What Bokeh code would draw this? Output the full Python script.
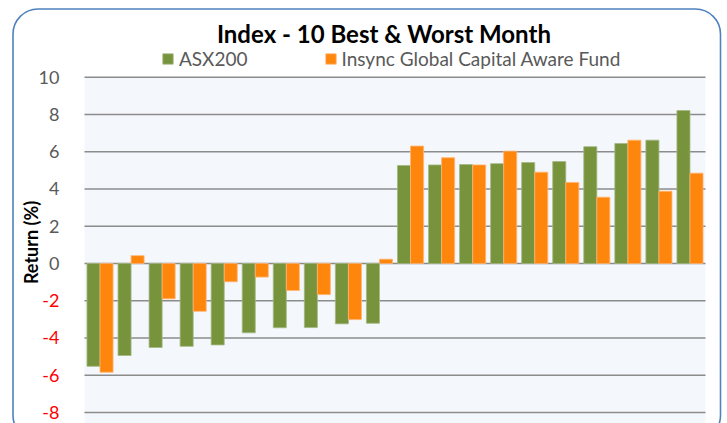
import numpy as np
from bokeh.plotting import figure
from bokeh.models import Range1d, Legend, LegendItem, BoxAnnotation, ColumnDataSource
from bokeh.core.properties import value
from bokeh.embed import file_html
from bokeh.resources import INLINE

# ---- data ----
categories = ["W1", "W2", "W3", "W4", "W5", "W6", "W7", "W8", "W9", "W10",
              "B10", "B9", "B8", "B7", "B6", "B5", "B4", "B3", "B2", "B1"]
asx200 = [-5.52, -4.94, -4.51, -4.45, -4.37, -3.72, -3.45, -3.44, -3.24, -3.21,
          5.26, 5.29, 5.31, 5.36, 5.42, 5.47, 6.27, 6.44, 6.62, 8.21]
insync = [-5.84, 0.42, -1.90, -2.57, -0.98, -0.73, -1.45, -1.67, -3.01, 0.23,
          6.30, 5.68, 5.29, 6.03, 4.90, 4.35, 3.56, 6.62, 3.88, 4.85]
y_ticks = [-8, -6, -4, -2, 0, 2, 4, 6, 8, 10]
series_names = ["ASX200", "Insync Global Capital Aware Fund"]
colors = ["#77933C", "#FF860D"]
title_text = "Index - 10 Best & Worst Month"
y_label = "Return (%)"

FONT = "Lato"
W, H = 727, 423
# layout in canvas pixels
PX_L, PX_R, PX_T, PX_B = 84, 705, 76.7, 412
n = len(categories)
ymin, ymax = y_ticks[0], y_ticks[-1]
sx = (PX_R - PX_L) / n
sy = (PX_B - PX_T) / (ymax - ymin)
x_start, x_end = -PX_L / sx, n + (W - PX_R) / sx
y_start, y_end = ymin - (H - PX_B) / sy, ymax + PX_T / sy


def cx(px):
    return x_start + px / sx


def cy(py):
    return y_end - py / sy


p = figure(width=W, height=H, output_backend="svg", toolbar_location=None,
           x_range=Range1d(x_start, x_end), y_range=Range1d(y_start, y_end),
           min_border=0, min_border_left=0, min_border_right=0,
           min_border_top=0, min_border_bottom=0)
p.axis.visible = False
p.grid.visible = False
p.outline_line_color = None
p.background_fill_color = "white"
p.border_fill_color = "white"

# plot-area background
p.add_layout(BoxAnnotation(left=0, right=n, bottom=y_start, top=ymax,
                           fill_color="#F4F7FB", fill_alpha=1, line_color=None,
                           level="image"))

# gridlines
p.segment(x0=[0] * len(y_ticks), x1=[n] * len(y_ticks), y0=y_ticks, y1=y_ticks,
          line_color="#8C8C8C", line_width=1.5)

# bars
centers = np.arange(n) + 0.5
bw = 0.42
r1 = p.vbar(x=centers - bw / 2, top=asx200, bottom=0, width=bw, fill_color=colors[0],
            line_color="#A3B884", line_width=0.8)
r2 = p.vbar(x=centers + bw / 2, top=insync, bottom=0, width=bw, fill_color=colors[1],
            line_color="#FFB574", line_width=0.8)

# y tick labels (negatives in red)
tick_src = ColumnDataSource(dict(
    x=[cx(PX_L - 25)] * len(y_ticks), y=y_ticks, text=[str(t) for t in y_ticks],
    color=["#FF0000" if t < 0 else "#595959" for t in y_ticks]))
p.text(x="x", y="y", text="text", text_color="color", source=tick_src,
       text_align="right", text_baseline="middle", text_font=value(FONT),
       text_font_size=value("18px"))

# y axis label
p.text(x=[cx(30.5)], y=[cy(242)], text=[y_label], angle=np.pi / 2,
       text_align="center", text_baseline="middle", text_font=value(FONT),
       text_font_size=value("18px"), text_font_style="bold", text_color="black")

# title
p.text(x=[cx(383.5)], y=[cy(33)], text=[title_text], text_align="center",
       text_baseline="middle", text_font=value(FONT), text_font_size=value("24px"),
       text_font_style="bold", text_color="black")

# legend
legend = Legend(items=[LegendItem(label=series_names[0], renderers=[r1]),
                       LegendItem(label=series_names[1], renderers=[r2])],
                orientation="horizontal", location=(161, H - 70))
legend.label_text_font = FONT
legend.label_text_font_size = "19px"
legend.label_text_color = "#595959"
legend.glyph_width = 13
legend.glyph_height = 13
legend.label_height = 20
legend.label_standoff = 5
legend.spacing = 76
legend.padding = 0
legend.margin = 0
legend.border_line_color = None
legend.background_fill_alpha = 0
p.add_layout(legend)

# rounded chart border
p.add_layout(BoxAnnotation(left=cx(12.5), right=cx(720), top=cy(8.5), bottom=cy(440),
                           fill_alpha=0, line_color="#4F81BD", line_alpha=1,
                           line_width=1.6, border_radius=25))

open("out.html", "w").write(file_html(p, INLINE))
